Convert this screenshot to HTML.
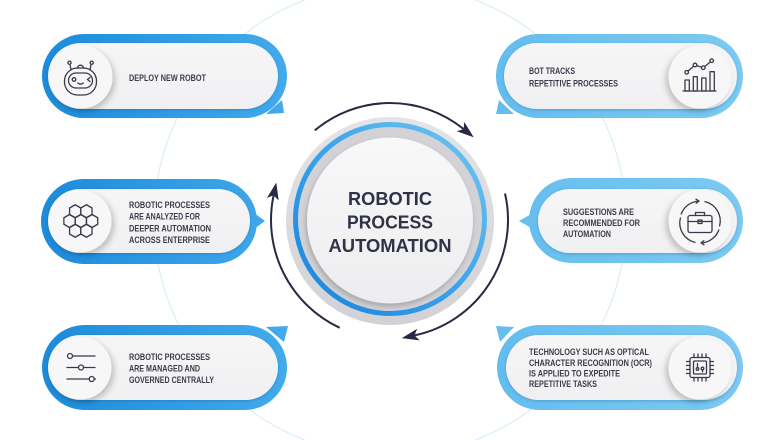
<!DOCTYPE html>
<html><head><meta charset="utf-8"><style>
html,body{margin:0;padding:0;background:#fff;}
svg{display:block;}
text{font-family:"Liberation Sans",sans-serif;}
</style></head><body>
<svg width="780" height="440" viewBox="0 0 780 440" xmlns="http://www.w3.org/2000/svg">
<defs>
<linearGradient id="gL" gradientUnits="userSpaceOnUse" x1="40" y1="0" x2="290" y2="0"><stop offset="0" stop-color="#1b8bdb"/><stop offset="1" stop-color="#43abec"/></linearGradient>
<linearGradient id="gR" gradientUnits="userSpaceOnUse" x1="495" y1="0" x2="745" y2="0"><stop offset="0" stop-color="#64bdee"/><stop offset="1" stop-color="#7ccaf2"/></linearGradient>
<linearGradient id="gRing" x1="0" y1="1" x2="1" y2="0"><stop offset="0" stop-color="#1784de"/><stop offset="0.5" stop-color="#3aa3ea"/><stop offset="1" stop-color="#72c8f3"/></linearGradient>
<linearGradient id="gOuter" x1="0" y1="0" x2="0" y2="1"><stop offset="0" stop-color="#e4e4e7"/><stop offset="1" stop-color="#d2d2d6"/></linearGradient>
<linearGradient id="gInner" x1="0" y1="0" x2="0" y2="1"><stop offset="0" stop-color="#f8f8f9"/><stop offset="1" stop-color="#ededef"/></linearGradient>
<linearGradient id="gPill" x1="0" y1="0" x2="0" y2="1"><stop offset="0" stop-color="#f6f6f7"/><stop offset="1" stop-color="#f0f0f2"/></linearGradient>
<filter id="shL" x="-40%" y="-40%" width="180%" height="180%"><feDropShadow dx="3" dy="3" stdDeviation="3" flood-color="#000" flood-opacity="0.2"/></filter>
<filter id="shR" x="-40%" y="-40%" width="180%" height="180%"><feDropShadow dx="-3" dy="3" stdDeviation="3" flood-color="#000" flood-opacity="0.2"/></filter>
<filter id="shP" x="-10%" y="-30%" width="120%" height="160%"><feDropShadow dx="0" dy="1" stdDeviation="1.5" flood-color="#0b4f8a" flood-opacity="0.3"/></filter>
<filter id="shC" x="-20%" y="-20%" width="140%" height="140%"><feDropShadow dx="-1" dy="3" stdDeviation="3" flood-color="#000" flood-opacity="0.22"/></filter>
<marker id="ah" markerUnits="userSpaceOnUse" markerWidth="20" markerHeight="14" refX="4" refY="6" orient="auto"><path d="M0,0 L17,6 L0,12 L4,6 Z" fill="#272a45"/></marker>
</defs>

<!-- faint large circle -->
<circle cx="390" cy="220" r="236" fill="none" stroke="#d3ebf4" stroke-width="1"/>

<!-- TL pill -->
<g fill="url(#gL)"><rect x="42" y="34" width="245" height="84" rx="42"/><polygon points="266,114 284,113 282,100"/></g>
<rect x="48" y="43" width="230" height="66" rx="33" fill="url(#gPill)" filter="url(#shP)"/>
<circle cx="81" cy="77" r="31.5" fill="#f7f7f7" filter="url(#shL)"/>
<!-- TR pill -->
<g fill="url(#gR)"><rect x="496" y="34" width="247" height="84" rx="42"/><polygon points="514,114 496,114 499,100"/></g>
<rect x="504" y="43" width="233" height="66" rx="33" fill="url(#gPill)" filter="url(#shP)"/>
<circle cx="700" cy="77" r="31.5" fill="#f7f7f7" filter="url(#shR)"/>
<!-- ML pill -->
<g fill="url(#gL)"><rect x="41" y="179" width="216" height="85" rx="42.5"/><polygon points="254,213 265,221 254,229"/></g>
<rect x="48" y="189" width="202" height="64" rx="32" fill="url(#gPill)" filter="url(#shP)"/>
<circle cx="80" cy="221" r="31.5" fill="#f7f7f7" filter="url(#shL)"/>
<!-- MR pill -->
<g fill="url(#gR)"><rect x="529" y="178" width="214" height="85" rx="42.5"/><polygon points="533,213 519,221 533,229"/></g>
<rect x="538" y="189" width="199" height="64" rx="32" fill="url(#gPill)" filter="url(#shP)"/>
<circle cx="700" cy="221" r="31.5" fill="#f7f7f7" filter="url(#shR)"/>
<!-- BL pill -->
<g fill="url(#gL)"><rect x="42" y="325" width="245" height="85" rx="42.5"/><polygon points="266,327 288,326 284,342"/></g>
<rect x="48" y="335" width="230" height="65" rx="32.5" fill="url(#gPill)" filter="url(#shP)"/>
<circle cx="80" cy="368" r="31.5" fill="#f7f7f7" filter="url(#shL)"/>
<!-- BR pill -->
<g fill="url(#gR)"><rect x="497" y="325" width="246" height="85" rx="42.5"/><polygon points="514,327 496,326 500,342"/></g>
<rect x="506" y="335" width="231" height="65" rx="32.5" fill="url(#gPill)" filter="url(#shP)"/>
<circle cx="700" cy="368" r="31.5" fill="#f7f7f7" filter="url(#shR)"/>

<!-- center circle -->
<circle cx="390" cy="221" r="104" fill="url(#gOuter)"/>
<circle cx="390" cy="219" r="93" fill="#d3d3d7"/>
<circle cx="390" cy="219" r="94.5" fill="none" stroke="url(#gRing)" stroke-width="5"/>
<circle cx="390" cy="220.5" r="83" fill="url(#gInner)" filter="url(#shC)"/>
<g fill="#303246" font-weight="bold" font-size="18.5" text-anchor="middle">
<text x="390" y="205" textLength="84" lengthAdjust="spacingAndGlyphs">ROBOTIC</text>
<text x="390" y="228.5" textLength="86" lengthAdjust="spacingAndGlyphs">PROCESS</text>
<text x="390" y="252" textLength="123" lengthAdjust="spacingAndGlyphs">AUTOMATION</text>
</g>

<!-- arrows -->
<g fill="none" stroke="#272a45" stroke-width="2" marker-end="url(#ah)">
<path d="M314.8,130.4 A117,117 0 0 1 463.6,129.1"/>
<path d="M505,193.5 A118,118 0 0 1 414.5,335.4"/>
<path d="M339.7,327.8 A119,119 0 0 1 273.6,195.3"/>
</g>

<!-- pill texts -->
<g fill="#3b3c4a" font-weight="bold" font-size="9">
<text x="129" y="81" textLength="77" lengthAdjust="spacingAndGlyphs">DEPLOY NEW ROBOT</text>
<text x="529" y="74" textLength="46" lengthAdjust="spacingAndGlyphs">BOT TRACKS</text>
<text x="529" y="86.5" textLength="89" lengthAdjust="spacingAndGlyphs">REPETITIVE PROCESSES</text>
<text x="129" y="208" textLength="81" lengthAdjust="spacingAndGlyphs">ROBOTIC PROCESSES</text>
<text x="129" y="219.7" textLength="71" lengthAdjust="spacingAndGlyphs">ARE ANALYZED FOR</text>
<text x="129" y="231.3" textLength="82" lengthAdjust="spacingAndGlyphs">DEEPER AUTOMATION</text>
<text x="129" y="243" textLength="81" lengthAdjust="spacingAndGlyphs">ACROSS ENTERPRISE</text>
<text x="563" y="215" textLength="71" lengthAdjust="spacingAndGlyphs">SUGGESTIONS ARE</text>
<text x="563" y="226" textLength="77" lengthAdjust="spacingAndGlyphs">RECOMMENDED FOR</text>
<text x="563" y="237" textLength="48" lengthAdjust="spacingAndGlyphs">AUTOMATION</text>
<text x="129" y="360" textLength="81" lengthAdjust="spacingAndGlyphs">ROBOTIC PROCESSES</text>
<text x="129" y="371.5" textLength="71" lengthAdjust="spacingAndGlyphs">ARE MANAGED AND</text>
<text x="129" y="383" textLength="85" lengthAdjust="spacingAndGlyphs">GOVERNED CENTRALLY</text>
<text x="529" y="355" textLength="120" lengthAdjust="spacingAndGlyphs">TECHNOLOGY SUCH AS OPTICAL</text>
<text x="529" y="366" textLength="123" lengthAdjust="spacingAndGlyphs">CHARACTER RECOGNITION (OCR)</text>
<text x="529" y="376.5" textLength="91" lengthAdjust="spacingAndGlyphs">IS APPLIED TO EXPEDITE</text>
<text x="529" y="387" textLength="68" lengthAdjust="spacingAndGlyphs">REPETITIVE TASKS</text>
</g>

<!-- icons -->
<g fill="none" stroke="#3a3b4a" stroke-width="1.3" stroke-linecap="round" stroke-linejoin="round">
<!-- robot -->
<rect x="64.5" y="68" width="32" height="27" rx="13"/>
<rect x="68.5" y="73" width="24" height="15" rx="7.5"/>
<line x1="70" y1="64.5" x2="71" y2="70"/><circle cx="69.5" cy="62.7" r="1.6"/>
<line x1="91" y1="64.5" x2="90" y2="70"/><circle cx="91.7" cy="62.7" r="1.6"/>
<path d="M77.5,68.2 a3,3 0 0 1 6,0"/>
<circle cx="74" cy="79.5" r="1.8"/>
<path d="M90,77.5 l-2.6,2 l2.6,2"/>
<path d="M77.8,83 q2.7,2.4 5.4,0"/>
<!-- chart -->
<line x1="683" y1="91" x2="716" y2="91"/>
<rect x="685" y="80" width="4.3" height="11"/>
<rect x="693.3" y="76.7" width="4" height="14.3"/>
<rect x="701.7" y="78" width="4.3" height="13"/>
<rect x="710" y="71.7" width="4.3" height="19.3"/>
<polyline points="686.7,72.3 695,65 703.3,67.7 711.7,60.7"/>
<circle cx="686.7" cy="72.3" r="1.8" fill="#f7f7f7"/>
<circle cx="695" cy="65" r="1.8" fill="#f7f7f7"/>
<circle cx="703.3" cy="67.7" r="1.8" fill="#f7f7f7"/>
<circle cx="711.7" cy="60.7" r="1.8" fill="#f7f7f7"/>
<!-- hexagons -->
<path d="M75.2,204.75 l5.63,3.25 v6.5 l-5.63,3.25 l-5.63,-3.25 v-6.5 z"/>
<path d="M86.4,204.75 l5.63,3.25 v6.5 l-5.63,3.25 l-5.63,-3.25 v-6.5 z"/>
<path d="M69.5,214.5 l5.63,3.25 v6.5 l-5.63,3.25 l-5.63,-3.25 v-6.5 z"/>
<path d="M80.8,214.5 l5.63,3.25 v6.5 l-5.63,3.25 l-5.63,-3.25 v-6.5 z"/>
<path d="M92.1,214.5 l5.63,3.25 v6.5 l-5.63,3.25 l-5.63,-3.25 v-6.5 z"/>
<path d="M75.2,224.25 l5.63,3.25 v6.5 l-5.63,3.25 l-5.63,-3.25 v-6.5 z"/>
<path d="M86.4,224.25 l5.63,3.25 v6.5 l-5.63,3.25 l-5.63,-3.25 v-6.5 z"/>
<!-- briefcase -->
<rect x="688" y="215.5" width="24" height="17" rx="2"/>
<path d="M695.5,215.5 v-3 h9 v3"/>
<path d="M688,221.5 h24"/>
<rect x="698" y="220" width="4" height="3.5"/>
<path d="M681.2,214 A20,20 0 0 1 698,201.1"/>
<path d="M705,201.6 A20,20 0 0 1 719.6,226"/>
<path d="M718.8,230 A20,20 0 0 1 702,242.9"/>
<path d="M695,242.4 A20,20 0 0 1 680.4,218"/>
<path d="M696,199.2 l3,1.9 l-2.8,2.2" />
<path d="M704,244.8 l-3,-1.9 l2.8,-2.2" />
<!-- sliders -->
<circle cx="70" cy="356" r="2.5"/><line x1="72.5" y1="356" x2="95" y2="356"/>
<line x1="67" y1="367.5" x2="78.5" y2="367.5"/><circle cx="81" cy="367.5" r="2.5"/><line x1="83.5" y1="367.5" x2="95" y2="367.5"/>
<line x1="67" y1="379" x2="89.2" y2="379"/><circle cx="91.7" cy="379" r="2.5"/><line x1="94.2" y1="379" x2="95.5" y2="379"/>
<!-- chip -->
<rect x="690" y="357.5" width="20" height="20" rx="2"/>
<rect x="693.5" y="361" width="13" height="13" rx="1"/>
<path d="M694,354 v3.5 M698,354 v3.5 M702,354 v3.5 M706,354 v3.5"/>
<path d="M694,377.5 v3.5 M698,377.5 v3.5 M702,377.5 v3.5 M706,377.5 v3.5"/>
<path d="M686.5,361.5 h3.5 M686.5,365.5 h3.5 M686.5,369.5 h3.5 M686.5,373.5 h3.5"/>
<path d="M710,361.5 h3.5 M710,365.5 h3.5 M710,369.5 h3.5 M710,373.5 h3.5"/>
<path d="M697.5,363.5 v4 M702.5,370 v2"/>
<circle cx="697.5" cy="369" r="1.3"/><circle cx="702.5" cy="368.5" r="1.3"/>
</g>
</svg>
</body></html>
